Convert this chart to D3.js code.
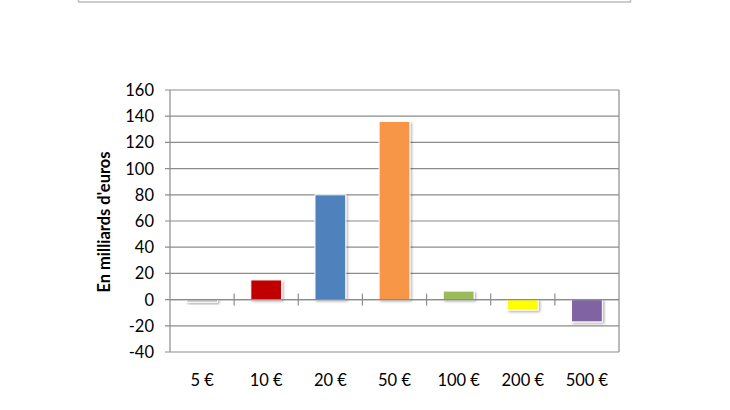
<!DOCTYPE html>
<html><head><meta charset="utf-8">
<script src="https://cdn.jsdelivr.net/npm/d3@7"></script>
<style>body{margin:0;background:#fff}svg{display:block}</style>
</head><body>
<script>
const categories = ["5 €","10 €","20 €","50 €","100 €","200 €","500 €"];
const values = [-2, 15, 80, 136, 6.5, -8, -17];
const colors = ["#bfbfbf","#c00000","#4f81bd","#f79646","#9bbb59","#ffff00","#8064a2"];
const yTicks = [-40,-20,0,20,40,60,80,100,120,140,160];

const W=730,H=410;
const svg=d3.select("body").append("svg").attr("width",W).attr("height",H);
const font="Lato, 'Open Sans', sans-serif";

// top box remnant
svg.append("rect").attr("x",78.5).attr("y",-20).attr("width",552).attr("height",22)
  .attr("fill","#fff").attr("stroke","#bdbdbd").attr("stroke-width",1.5);

const L=170,R=619,T=90,B=352;
const x=d3.scaleBand().domain(categories).range([L,R]).paddingInner(0.52).paddingOuter(0.26);
const y=d3.scaleLinear().domain([-40,160]).range([B,T]);

const defs=svg.append("defs");
const f=defs.append("filter").attr("id","sh").attr("x","-20%").attr("y","-50%").attr("width","150%").attr("height","250%");
f.append("feDropShadow").attr("dx",1.5).attr("dy",1.5).attr("stdDeviation",1.2).attr("flood-color","#000").attr("flood-opacity",0.3);

// gridlines
svg.append("g").selectAll("line").data(yTicks).join("line")
  .attr("x1",L-5).attr("x2",R).attr("y1",d=>y(d)).attr("y2",d=>y(d))
  .attr("stroke","#8c8c8c").attr("stroke-width",1.2);
svg.append("line").attr("x1",R).attr("x2",R).attr("y1",T).attr("y2",B).attr("stroke","#8c8c8c").attr("stroke-width",1.2);
svg.append("line").attr("x1",L).attr("x2",L).attr("y1",T).attr("y2",B).attr("stroke","#8c8c8c").attr("stroke-width",1.2);

// y labels
svg.append("g").selectAll("text").data(yTicks).join("text")
  .attr("x",154).attr("y",d=>y(d)).attr("dy","0.36em").attr("text-anchor","end")
  .attr("font-family",font).attr("font-size",16.5).attr("fill","#000").text(d=>d);

svg.append("text").attr("transform",`translate(110,222) rotate(-90)`)
  .attr("text-anchor","middle").attr("font-family",font).attr("font-weight","bold")
  .attr("font-size",16.5).text("En milliards d'euros");

// bars
svg.append("g").selectAll("rect").data(values).join("rect")
  .attr("x",(d,i)=>x(categories[i])).attr("width",x.bandwidth())
  .attr("y",d=>Math.min(y(d),y(0))).attr("height",d=>Math.abs(y(d)-y(0)))
  .attr("fill",(d,i)=>colors[i]).attr("stroke","#fff").attr("stroke-width",1)
  .attr("filter","url(#sh)");

// zero line with category ticks
const step=(R-L)/categories.length;
svg.append("line").attr("x1",L).attr("x2",R).attr("y1",y(0)).attr("y2",y(0)).attr("stroke","#8c8c8c").attr("stroke-width",1.2);
svg.append("g").selectAll("line").data(d3.range(1,categories.length)).join("line")
  .attr("x1",i=>L+i*step).attr("x2",i=>L+i*step).attr("y1",y(0)-6).attr("y2",y(0)+6)
  .attr("stroke","#8c8c8c").attr("stroke-width",1.2);

// x labels
svg.append("g").selectAll("text").data(categories).join("text")
  .attr("x",d=>x(d)+x.bandwidth()/2).attr("y",380).attr("dy","0.35em").attr("text-anchor","middle")
  .attr("font-family",font).attr("font-size",16.5).text(d=>d);
</script>
</body></html>
